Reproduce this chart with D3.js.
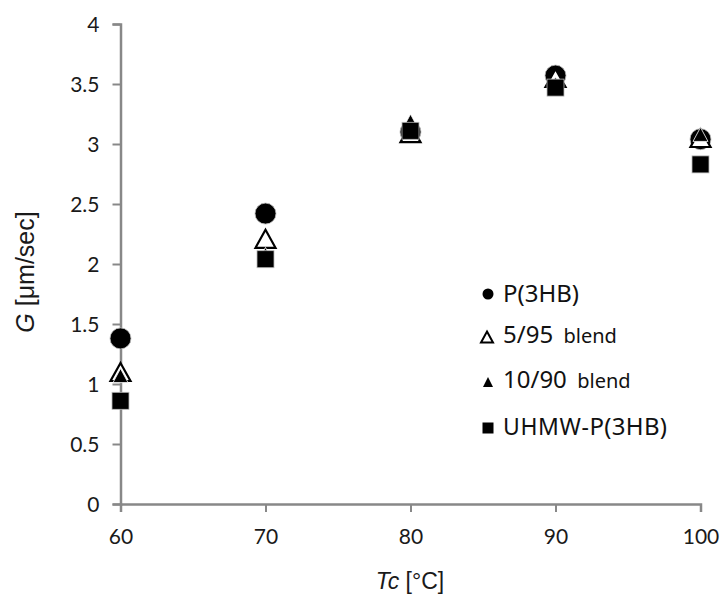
<!DOCTYPE html>
<html><head><meta charset="utf-8">
<script src="https://cdn.jsdelivr.net/npm/d3@7"></script>
<style>body{margin:0;background:#fff}svg{display:block}</style>
</head><body>
<svg id="c" width="723" height="600"></svg>
<script>
const temps = [60, 70, 80, 90, 100];
const p3hb = [1.38, 2.42, 3.10, 3.57, 3.04];
const blend595 = [1.10, 2.21, 3.09, 3.55, 3.05];
const blend1090 = [1.07, 2.08, 3.19, 3.50, 3.08];
const uhmw = [0.86, 2.04, 3.11, 3.47, 2.83];
const xTicks = [60, 70, 80, 90, 100];
const yTicks = [0, 0.5, 1, 1.5, 2, 2.5, 3, 3.5, 4];

const svg = d3.select("#c");
const x = d3.scaleLinear().domain([60, 100]).range([120.5, 700.5]);
const y = d3.scaleLinear().domain([0, 4]).range([504, 24]);
const axisColor = "#888";
const font = "Lato, 'Open Sans', sans-serif";

const gx = svg.append("g").attr("transform", `translate(0,${y(0)})`)
  .call(d3.axisBottom(x).tickValues(xTicks).tickSize(8).tickPadding(14).tickFormat(d => d));
const gy = svg.append("g").attr("transform", `translate(${x(60)},0)`)
  .call(d3.axisLeft(y).tickValues(yTicks).tickSize(8).tickPadding(13).tickFormat(d => String(d)));
[gx, gy].forEach(g => {
  g.select(".domain").attr("stroke", axisColor).attr("stroke-width", 2.5);
  g.selectAll(".tick line").attr("stroke", axisColor).attr("stroke-width", 2);
  g.selectAll(".tick text").attr("fill", "#1a1a1a").style("font-family", font).style("font-size", "21px");
});
gx.selectAll(".tick text").attr("dy", "0.85em");
gy.selectAll(".tick text").attr("dy", "0.35em");

// axis titles
const xt = svg.append("text").attr("x", 410).attr("y", 589).attr("text-anchor", "middle")
  .style("font-family", "'Liberation Sans', Arial, sans-serif").style("font-size", "23px").attr("fill", "#1a1a1a");
xt.append("tspan").style("font-style", "italic").text("Tc");
xt.append("tspan").text(" [°C]");
const yt = svg.append("text").attr("transform", "translate(34,272) rotate(-90)").attr("text-anchor", "middle")
  .style("font-family", "'Liberation Sans', Arial, sans-serif").style("font-size", "25px").attr("fill", "#1a1a1a");
yt.append("tspan").style("font-style", "italic").text("G");
yt.append("tspan").text(" [μm/sec]");

function tri(cx, cy, w, h) {
  return `M${cx},${cy - h / 2}L${cx + w / 2},${cy + h / 2}L${cx - w / 2},${cy + h / 2}Z`;
}

const g = svg.append("g");
g.selectAll(".c").data(temps.map((t, i) => [t, p3hb[i]])).join("circle")
  .attr("cx", d => x(d[0])).attr("cy", d => y(d[1])).attr("r", 10.5)
  .attr("fill", "#000").attr("stroke", "#bbb").attr("stroke-width", 0.8);
g.selectAll(".t1").data(temps.map((t, i) => [t, blend595[i]])).join("path")
  .attr("d", d => tri(x(d[0]), y(d[1]), 20, 18))
  .attr("fill", "#fff").attr("stroke", "#000").attr("stroke-width", 2.2).attr("stroke-linejoin", "miter");
g.selectAll(".t2").data(temps.map((t, i) => [t, blend1090[i]])).join("path")
  .attr("d", d => tri(x(d[0]), y(d[1]), 15, 14))
  .attr("fill", "#000").attr("stroke", "#fff").attr("stroke-width", 0.8);
g.selectAll(".s").data(temps.map((t, i) => [t, uhmw[i]])).join("rect")
  .attr("x", d => x(d[0]) - 8.5).attr("y", d => y(d[1]) - 8.5).attr("width", 17).attr("height", 17)
  .attr("fill", "#000").attr("stroke", "#bbb").attr("stroke-width", 0.8);

// legend
const leg = svg.append("g");
const lx = 488;
const legFont = "'Noto Sans', 'Open Sans', sans-serif";
leg.append("circle").attr("cx", lx).attr("cy", 294).attr("r", 5.5).attr("fill", "#000");
leg.append("path").attr("d", tri(lx - 1, 337, 12, 11)).attr("fill", "#fff").attr("stroke", "#000").attr("stroke-width", 2);
leg.append("path").attr("d", tri(lx, 382, 10, 10)).attr("fill", "#000");
leg.append("rect").attr("x", lx - 5.5).attr("y", 422.5).attr("width", 11).attr("height", 11).attr("fill", "#000");

function legText(yy, parts) {
  const t = leg.append("text").attr("x", 503).attr("y", yy).attr("fill", "#111").style("font-family", legFont)
    .attr("xml:space", "preserve").style("white-space", "pre");
  parts.forEach(p => t.append("tspan").style("font-size", p[1] + "px").style("letter-spacing", (p[2] || 0) + "px").text(p[0]));
}
legText(302, [["P(3HB)", 24]]);
legText(343, [["5/95", 24], ["  blend", 20]]);
legText(388, [["10/90", 24], ["  blend", 20]]);
legText(435, [["UHMW-", 23, 0.6], ["P(3HB)", 24, 0.3]]);
</script>
</body></html>
